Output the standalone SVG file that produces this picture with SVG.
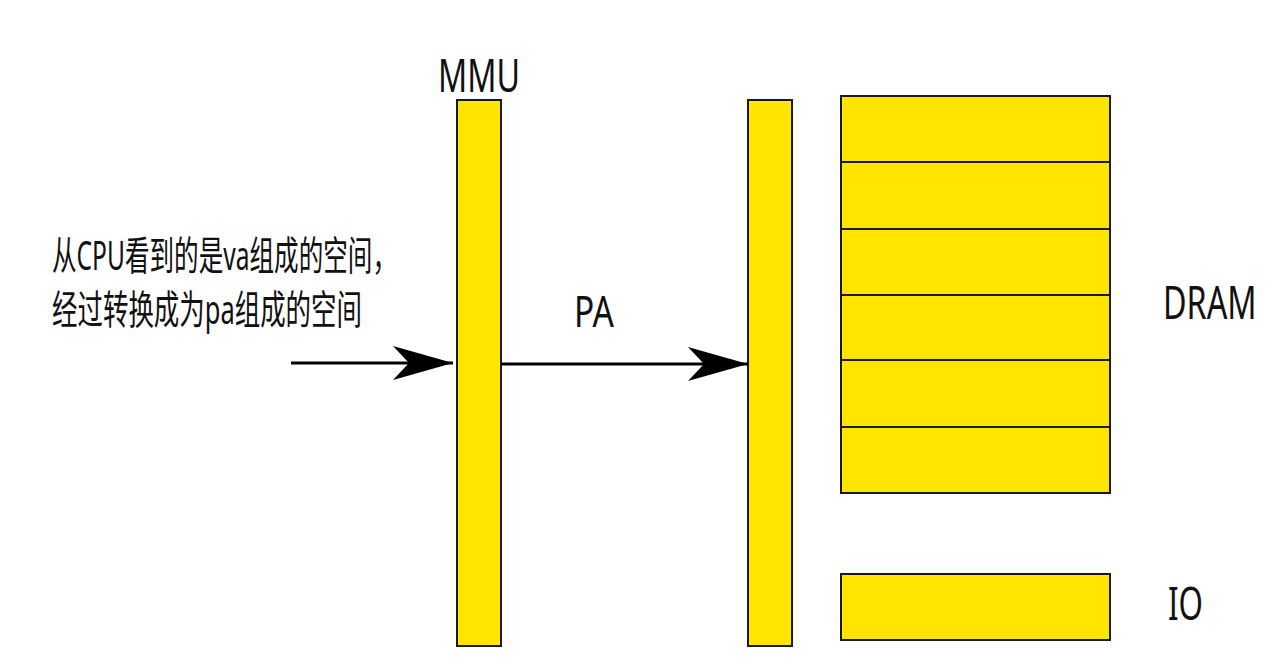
<svg xmlns="http://www.w3.org/2000/svg" width="1284" height="670" viewBox="0 0 1284 670">
<style>
.box{fill:#ffe500;stroke:#1a1a1a;stroke-width:2}
.lbl{font-family:"Noto Sans","Noto Sans CJK SC",sans-serif;fill:#111}
.conn{stroke:#000;stroke-width:3;fill:none}
</style>
<defs>
<marker id="ah" viewBox="0 0 60 34" refX="60" refY="17" markerWidth="60" markerHeight="34" markerUnits="userSpaceOnUse" orient="auto">
<path d="M0,0 L60,17 L0,34 L16,17 Z" fill="#000"/>
</marker>
</defs>
<rect width="1284" height="670" fill="#fff"/>
<g id="note">
<text class="lbl" x="52" y="270" font-size="40" textLength="345" lengthAdjust="spacingAndGlyphs">从CPU看到的是va组成的空间，</text>
<text class="lbl" x="52" y="324" font-size="40" textLength="310" lengthAdjust="spacingAndGlyphs">经过转换成为pa组成的空间</text>
</g>
<g id="mmu">
<rect class="box" x="457" y="100" width="44" height="546"/>
<text class="lbl" x="438" y="92" font-size="46" textLength="82" lengthAdjust="spacingAndGlyphs">MMU</text>
</g>
<g id="bus">
<rect class="box" x="748" y="100" width="44" height="546"/>
</g>
<g id="dram">
<rect class="box" x="841" y="96" width="269" height="66"/>
<rect class="box" x="841" y="162" width="269" height="67"/>
<rect class="box" x="841" y="229" width="269" height="66"/>
<rect class="box" x="841" y="295" width="269" height="65"/>
<rect class="box" x="841" y="360" width="269" height="67"/>
<rect class="box" x="841" y="427" width="269" height="66"/>
<text class="lbl" transform="matrix(0.72 0 0 1 1163 319)" x="0" y="0" font-size="46" textLength="130" lengthAdjust="spacingAndGlyphs">DRAM</text>
</g>
<g id="io">
<rect class="box" x="841" y="574" width="269" height="66"/>
<text class="lbl" x="1168" y="620" font-size="46" textLength="35" lengthAdjust="spacingAndGlyphs">IO</text>
</g>
<g id="connectors">
<line class="conn" x1="291" y1="363" x2="453" y2="363" marker-end="url(#ah)"/>
<line class="conn" x1="501" y1="364" x2="748" y2="364" marker-end="url(#ah)"/>
<text class="lbl" x="574" y="327" font-size="44" textLength="40" lengthAdjust="spacingAndGlyphs">PA</text>
</g>
</svg>
